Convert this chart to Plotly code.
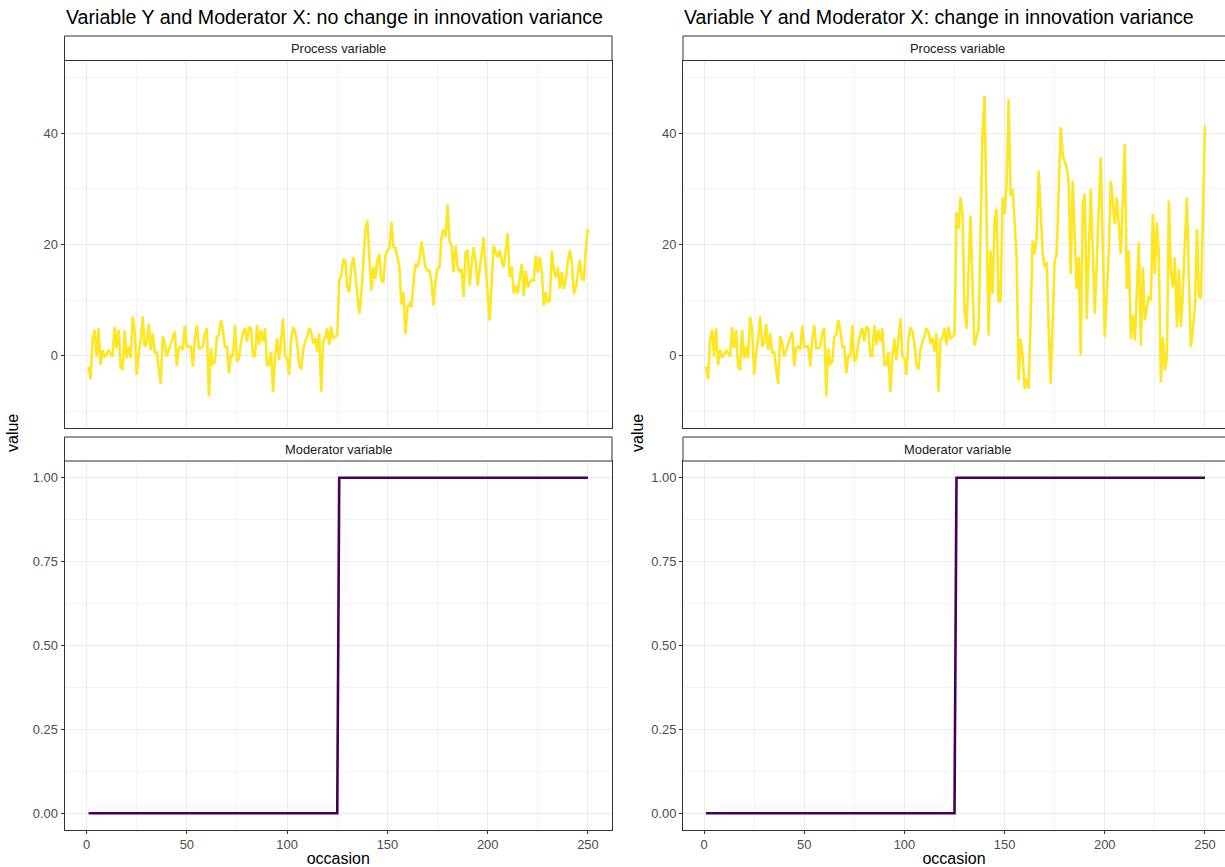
import plotly.graph_objects as go

W, H = 1225, 867

occasion = list(range(1, 251))

process_no_change = [
    -2.0, -4.3, 2.8, 4.6, -0.2, 4.9, -1.7, 1.0, -0.2, 0.1,
    1.0, 0.4, -0.2, 5.1, 1.3, 4.6, -2.0, -2.6, 4.6, -0.5,
    1.6, -0.5, 7.0, 4.6, -3.5, 0.4, 2.8, 7.0, 1.6, 2.2,
    5.7, 1.0, 4.0, 0.4, 0.7, -2.6, -5.1, 3.5, 2.2, -0.2,
    1.0, 2.2, 3.4, 4.3, -1.9, 1.3, 1.6, 1.0, 5.4, 1.6,
    1.6, 1.6, -2.0, 2.8, 5.5, 1.3, 1.3, 1.6, 4.0, 4.9,
    -7.4, 1.3, -1.7, -1.1, 3.4, 3.7, 6.4, 4.6, 1.6, 1.6,
    -3.2, 0.1, -0.2, 5.5, -1.1, -0.5, 2.2, 4.0, 4.9, 2.5,
    5.2, 4.9, -0.1, -0.1, 5.5, 1.9, 4.6, 2.5, 4.9, -1.7,
    -1.7, 0.7, -6.6, -0.2, 3.1, -0.8, 2.8, 6.7, -0.1, -0.5,
    -3.5, 2.8, 5.1, 4.3, 2.2, -1.7, -2.5, 1.0, 2.5, 3.4,
    4.9, 4.3, 2.2, 3.1, 0.7, 4.0, -6.5, 2.8, 3.1, 4.9,
    1.9, 5.2, 3.1, 3.4, 3.7,
    13.5, 14.4, 17.2, 17.1, 12.3, 11.4, 15.9, 17.7, 14.7, 10.8,
    7.5, 11.1, 17.1, 22.5, 24.3, 18.3, 11.7, 15.9, 13.8, 17.1,
    18.3, 13.5, 13.2, 18.0, 18.9, 19.2, 24.1, 19.5, 19.4, 17.7,
    15.9, 9.2, 11.4, 3.9, 8.7, 9.3, 8.7, 12.9, 16.5, 15.9,
    17.4, 20.5, 18.3, 15.9, 15.3, 15.3, 13.2, 9.0, 13.5, 15.6,
    15.9, 21.3, 22.8, 21.3, 27.2, 20.7, 19.8, 15.0, 19.8, 15.9,
    15.0, 15.6, 10.5, 18.6, 19.0, 12.6, 16.5, 19.5, 17.0, 12.6,
    15.5, 18.5, 21.3, 16.0, 11.0, 6.3, 13.5, 19.8, 18.5, 17.7,
    19.0, 17.0, 15.9, 19.5, 22.0, 14.1, 16.0, 11.2, 12.6, 11.2,
    14.1, 16.5, 10.8, 15.3, 12.3, 13.2, 13.6, 13.5, 18.0, 14.9,
    17.7, 15.3, 9.0, 11.4, 9.6, 9.9, 18.9, 15.3, 14.1, 15.9,
    12.0, 15.0, 12.0, 13.8, 17.1, 19.0, 16.5, 11.1, 12.3, 14.4,
    17.2, 13.8, 13.5, 19.5, 22.8,
]

process_change = [
    -2.0, -4.3, 2.8, 4.6, -0.2, 4.9, -1.7, 1.0, -0.2, 0.1,
    1.0, 0.4, -0.2, 5.1, 1.3, 4.6, -2.0, -2.6, 4.6, -0.5,
    1.6, -0.5, 7.0, 4.6, -3.5, 0.4, 2.8, 7.0, 1.6, 2.2,
    5.7, 1.0, 4.0, 0.4, 0.7, -2.6, -5.1, 3.5, 2.2, -0.2,
    1.0, 2.2, 3.4, 4.3, -1.9, 1.3, 1.6, 1.0, 5.4, 1.6,
    1.6, 1.6, -2.0, 2.8, 5.5, 1.3, 1.3, 1.6, 4.0, 4.9,
    -7.4, 1.3, -1.7, -1.1, 3.4, 3.7, 6.4, 4.6, 1.6, 1.6,
    -3.2, 0.1, -0.2, 5.5, -1.1, -0.5, 2.2, 4.0, 4.9, 2.5,
    5.2, 4.9, -0.1, -0.1, 5.5, 1.9, 4.6, 2.5, 4.9, -1.7,
    -1.7, 0.7, -6.6, -0.2, 3.1, -0.8, 2.8, 6.7, -0.1, -0.5,
    -3.5, 2.8, 5.1, 4.3, 2.2, -1.7, -2.5, 1.0, 2.5, 3.4,
    4.9, 4.3, 2.2, 3.1, 0.7, 4.0, -6.5, 2.8, 3.1, 4.9,
    1.9, 5.2, 3.1, 3.4, 3.7,
    25.8, 22.8, 28.5, 25.5, 8.1, 4.8, 15.0, 25.2, 13.0, 1.8,
    3.3, 4.8, 22.0, 40.5, 46.8, 25.0, 3.6, 18.9, 11.1, 24.3,
    26.4, 9.6, 9.9, 28.5, 25.5, 30.9, 46.2, 28.8, 30.0, 24.0,
    17.7, -4.5, 3.0, 0.0, -6.0, -4.2, -6.0, 7.0, 20.7, 18.3,
    21.3, 33.3, 25.5, 18.6, 15.9, 16.8, 5.0, -5.1, 6.0, 17.1,
    18.3, 30.0, 41.1, 36.0, 35.0, 33.9, 30.9, 14.7, 31.5, 22.0,
    12.0, 17.7, 0.0, 27.3, 29.1, 6.6, 18.0, 30.0, 19.0, 7.5,
    17.0, 27.0, 35.7, 20.0, 3.3, 11.0, 18.9, 31.5, 27.0, 23.7,
    28.5, 23.0, 18.3, 28.0, 38.1, 12.0, 18.9, 3.0, 7.2, 2.7,
    11.0, 20.4, 1.8, 15.9, 6.3, 8.5, 10.8, 9.9, 25.5, 14.7,
    24.0, 18.0, -4.8, 3.3, -2.7, -0.3, 27.9, 15.3, 12.3, 17.7,
    5.1, 15.6, 5.1, 12.0, 20.0, 28.5, 14.0, 1.5, 5.0, 8.7,
    22.8, 10.8, 10.2, 25.0, 41.4,
]

moderator = [0] * 125 + [1] * 125

titles = ["Variable Y and Moderator X: no change in innovation variance",
          "Variable Y and Moderator X: change in innovation variance"]
strip_labels = ["Process variable", "Moderator variable"]
x_ticks = [0, 50, 100, 150, 200, 250]
x_minor = [25, 75, 125, 175, 225]
y_top_ticks = [0, 20, 40]
y_top_minor = [-10, 10, 30, 50]
y_bot_ticks = [0, 0.25, 0.5, 0.75, 1.0]
y_bot_text = ["0.00", "0.25", "0.50", "0.75", "1.00"]
y_bot_minor = [0.125, 0.375, 0.625, 0.875]

YELLOW = "#FDE725"
PURPLE = "#440154"
FONT = "Liberation Sans, Arial, Helvetica, sans-serif"
GRID = "#EBEBEB"
MINOR = "#F3F3F3"
BORDER = "#333333"
TITLE_SIZE = 19.6
STRIP_SIZE = 12.9
TICK_SIZE = 12.9
AXIS_TITLE_SIZE = 16.0

# pixel geometry
panels_x = [(64.5, 612.0), (683.0, 1225.0)]
xranges = [[-11.0, 262.0], [-10.5, 260.0]]
strip_top = (36.0, 60.5)
panel_top = (60.5, 427.5)
strip_bot = (437.0, 461.0)
panel_bot = (461.0, 830.0)


def py(p):
    return 1 - p / H


def px(p):
    return p / W


fig = go.Figure()
layout = dict(width=W, height=H, margin=dict(l=0, r=0, t=0, b=0),
              paper_bgcolor="white", plot_bgcolor="white", showlegend=False,
              font=dict(family=FONT))
shapes = []
annotations = []

series_top = [process_no_change, process_change]
for i in range(2):
    xt = "x" if i == 0 else "x3"
    yt = "y" if i == 0 else "y3"
    xb = f"x{2*i+2}"
    yb = f"y{2*i+2}"
    fig.add_trace(go.Scatter(x=occasion, y=series_top[i], mode="lines",
                             line=dict(color=YELLOW, width=2.6),
                             xaxis=xt, yaxis=yt, hoverinfo="skip"))
    fig.add_trace(go.Scatter(x=occasion, y=moderator, mode="lines",
                             line=dict(color=PURPLE, width=2.6),
                             xaxis=xb, yaxis=yb, hoverinfo="skip"))
    x0, x1 = panels_x[i]
    dom_x = [px(x0), min(1.0, px(x1))]
    common_x = dict(domain=dom_x, range=xranges[i], tickvals=x_ticks,
                    showgrid=True, gridcolor=GRID, gridwidth=1.1,
                    minor=dict(tickvals=x_minor, showgrid=True, gridcolor=MINOR,
                               gridwidth=0.6, ticks=""),
                    showline=True, mirror=True, linecolor=BORDER, linewidth=1,
                    zeroline=False, fixedrange=True)
    kt = "xaxis" if i == 0 else "xaxis3"
    kb = f"xaxis{2*i+2}"
    ykt = "yaxis" if i == 0 else "yaxis3"
    ykb = f"yaxis{2*i+2}"
    layout[kt] = dict(common_x, anchor=yt, showticklabels=False, ticks="")
    layout[kb] = dict(common_x, anchor=yb, showticklabels=True, ticks="outside",
                      ticklen=3, tickcolor=BORDER, tickwidth=1,
                      tickfont=dict(size=TICK_SIZE, color="#4D4D4D", family=FONT),
                      title=dict(text="occasion", standoff=2,
                                 font=dict(size=AXIS_TITLE_SIZE, color="black", family=FONT)))
    common_y = dict(showgrid=True, gridcolor=GRID, gridwidth=1.1,
                    showline=True, mirror=(i == 0), linecolor=BORDER, linewidth=1,
                    zeroline=False, ticks="outside", ticklen=3, tickcolor=BORDER,
                    tickwidth=1, tickfont=dict(size=TICK_SIZE, color="#4D4D4D", family=FONT),
                    fixedrange=True)
    layout[ykt] = dict(common_y, anchor=xt, domain=[py(panel_top[1]), py(panel_top[0])],
                       range=[-12.97, 53.15], tickvals=y_top_ticks,
                       minor=dict(tickvals=y_top_minor, showgrid=True, gridcolor=MINOR,
                                  gridwidth=0.6, ticks=""))
    layout[ykb] = dict(common_y, anchor=xb, domain=[py(panel_bot[1]), py(panel_bot[0])],
                       range=[-0.05, 1.05], tickvals=y_bot_ticks, ticktext=y_bot_text,
                       minor=dict(tickvals=y_bot_minor, showgrid=True, gridcolor=MINOR,
                                  gridwidth=0.6, ticks=""))

    # strips
    for (s0, s1), lab in zip([strip_top, strip_bot], strip_labels):
        shapes.append(dict(type="rect", xref="paper", yref="paper",
                           x0=px(x0), x1=px(x1 + 6 if i == 1 else x1),
                           y0=py(s1), y1=py(s0),
                           fillcolor="white", line=dict(color=BORDER, width=1)))
        annotations.append(dict(text=lab, xref="paper", yref="paper",
                                x=px((x0 + x1 + (6 if i == 1 else 0)) / 2),
                                y=py((s0 + s1) / 2), showarrow=False,
                                xanchor="center", yanchor="middle",
                                font=dict(size=STRIP_SIZE, color="#1A1A1A", family=FONT)))
    # title
    annotations.append(dict(text=titles[i], xref="paper", yref="paper",
                            x=px(x0 - 1), y=py(17), xanchor="left", yanchor="middle",
                            showarrow=False,
                            font=dict(size=TITLE_SIZE, color="black", family=FONT)))
    # y title
    annotations.append(dict(text="value", xref="paper", yref="paper",
                            x=px(12 if i == 0 else 637), y=py(433), textangle=-90,
                            xanchor="center", yanchor="middle", showarrow=False,
                            font=dict(size=AXIS_TITLE_SIZE, color="black", family=FONT)))

layout["shapes"] = shapes
layout["annotations"] = annotations
fig.update_layout(**layout)
fig.write_html("out.html", config={"displayModeBar": False},
               post_script="document.body.style.margin='0';document.body.style.overflow='hidden';")
